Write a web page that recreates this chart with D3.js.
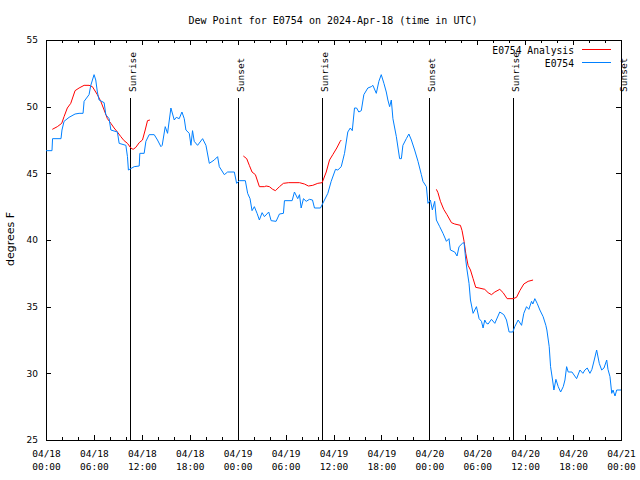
<!DOCTYPE html>
<html><head><meta charset="utf-8">
<script src="https://cdn.jsdelivr.net/npm/d3@7"></script>
<style>body{margin:0;background:#fff}svg{display:block}</style>
</head><body>
<svg id="c" width="640" height="480"></svg>
<script>
// ---- data (hours since 2024-04-18 00:00 UTC) ----
const obsHours = [0,0.75,0.82,1.88,2.0,2.26,2.89,3.64,4.14,4.64,4.77,5.39,5.61,6.02,6.23,6.43,6.65,7.28,7.49,7.90,8.12,8.94,9.16,10.0,10.2,10.32,11.04,11.67,11.75,12.29,12.51,12.92,13.55,13.96,14.39,14.55,14.93,15.22,15.64,16.06,16.31,16.68,17.02,17.31,17.52,17.94,18.15,18.35,18.56,18.98,19.61,20.03,20.45,21.07,21.49,21.70,22.33,22.74,23.58,23.87,24.21,24.96,25.25,25.55,25.80,26.09,26.43,26.72,27.06,27.35,27.89,28.19,28.81,29.23,29.73,29.86,30.82,31.11,31.52,31.74,31.95,32.24,32.58,32.99,33.37,33.62,34.37,34.87,35.29,35.71,36.25,36.54,36.97,37.38,37.79,38.10,38.35,38.63,38.89,39.17,39.48,39.80,40.30,40.73,40.93,41.36,41.68,41.98,42.31,42.61,42.81,43.03,43.24,43.44,43.87,44.28,44.50,44.69,45.12,45.44,45.75,46.16,46.58,47.0,47.20,47.63,47.83,48.13,48.38,48.67,48.88,49.30,49.71,50.14,50.46,50.64,51.18,51.47,51.72,52.14,52.35,52.56,52.72,52.97,53.15,53.48,53.90,54.23,54.53,54.73,54.94,55.16,55.36,55.78,56.20,56.82,57.33,57.66,57.99,58.45,58.70,59.12,59.55,59.83,60.17,60.46,60.80,60.96,61.21,61.50,61.84,62.25,62.59,62.72,63.01,63.18,63.43,63.60,63.85,64.14,64.44,64.77,64.98,65.19,65.39,65.86,66.44,66.86,67.23,67.48,67.77,68.11,68.36,68.65,68.95,69.28,69.58,69.87,70.21,70.37,70.62,70.84,71.0,71.25,71.46,72.0];
const obsValues = [46.7,46.7,47.6,47.6,48.25,48.9,49.2,49.45,49.5,49.5,50.4,50.9,51.6,52.4,52.0,51.1,50.5,50.3,49.4,49.1,48.25,48.1,47.25,47.1,46.25,45.25,45.5,45.55,46.5,46.5,47.4,47.9,47.9,47.5,47.0,47.1,48.5,48.0,49.9,49.0,49.2,49.1,49.6,49.1,48.25,48.0,47.1,48.2,47.4,47.1,47.6,47.1,45.75,46.0,46.25,45.5,44.9,45.1,45.1,44.25,44.45,44.45,43.5,43.1,42.2,42.5,42.0,41.5,42.05,41.75,42.1,41.45,41.4,41.95,42.0,42.95,42.95,43.6,43.1,43.4,42.4,43.1,42.9,43.05,43.0,42.4,42.4,43.0,43.5,44.4,45.3,45.25,45.5,46.5,48.1,48.4,48.2,49.9,49.9,49.6,49.7,50.9,51.4,51.5,51.6,51.0,51.9,52.4,51.75,51.1,50.5,50.0,50.5,49.1,47.75,46.1,46.1,47.1,47.6,47.95,47.5,46.75,45.9,44.9,44.4,44.0,42.75,43.0,42.25,42.9,41.5,41.0,40.5,39.9,40.1,39.25,39.1,38.8,39.5,39.75,39.8,38.5,37.75,36.75,35.5,34.5,35.0,34.1,33.9,33.4,34.0,33.75,33.7,34.05,33.75,34.6,34.4,34.0,33.1,33.1,33.5,34.0,33.6,34.5,35.0,34.8,35.4,35.2,35.6,35.25,34.75,34.25,33.6,33.25,32.0,30.5,29.5,28.75,29.55,29.0,28.6,29.0,29.5,30.5,30.1,30.1,29.6,30.25,30.0,30.25,30.4,30.0,30.3,31.0,31.75,30.75,30.25,30.4,31.0,30.3,29.75,28.5,28.75,28.3,28.75,28.75];

// analysis: null marks a gap between runs
const anaHours = [0.79,1.42,1.97,2.26,2.67,3.10,3.64,4.14,4.77,5.39,5.81,6.43,6.86,7.28,7.69,8.12,8.53,8.94,9.37,9.78,10.2,10.62,10.91,11.25,11.67,12.08,12.42,12.71,13.01,
  13.5,
  24.71,25.13,25.46,25.80,26.22,26.72,27.35,27.56,27.97,28.39,28.73,29.23,29.73,30.39,31.74,32.36,32.86,33.40,34.03,34.58,35.09,35.50,35.91,36.41,36.84,36.97,
  37.5,
  48.88,49.08,49.39,49.80,50.21,50.77,51.18,51.89,52.10,52.35,52.56,52.85,53.15,53.48,53.81,54.23,54.94,55.36,55.78,56.20,56.82,57.24,57.74,58.49,58.92,59.33,59.83,60.37,60.99];
const anaValues = [48.3,48.5,48.75,49.25,49.9,50.25,51.2,51.4,51.6,51.6,51.5,50.9,50.4,49.75,49.1,48.75,48.4,48.1,47.75,47.45,47.25,46.9,46.8,46.95,47.3,47.5,48.25,48.95,49.0,
  null,
  46.3,46.1,45.6,45.1,44.9,44.0,44.0,44.05,44.0,43.8,43.7,44.0,44.25,44.3,44.3,44.2,44.05,44.1,44.25,44.3,45.1,46.0,46.4,46.9,47.4,47.5,
  null,
  43.8,43.55,42.9,42.3,41.9,41.3,41.2,41.1,40.7,39.9,39.0,38.1,37.75,37.1,36.45,36.4,36.3,36.05,35.9,36.1,36.3,36.05,35.6,35.6,35.7,36.2,36.7,36.9,37.0];

const eventHours = [10.5, 24.0, 34.5, 48.0, 58.5, 72.0];
const eventLabels = ["Sunrise","Sunset","Sunrise","Sunset","Sunrise","Sunset"];
const yTicks = [25,30,35,40,45,50,55];
const seriesNames = ["E0754 Analysis","E0754"];
const seriesColors = ["#ff0000","#0080ff"];
const titleText = "Dew Point for E0754 on 2024-Apr-18 (time in UTC)";
const yLabel = "degrees F";

// ---- chart ----
const svg = d3.select("#c");
const L = 46, R = 621, T = 40, B = 440;
const t0 = Date.UTC(2024,3,18);
const toDate = h => new Date(t0 + h*3600e3);
const x = d3.scaleUtc().domain([toDate(0), toDate(72)]).range([L, R]);
const y = d3.scaleLinear().domain([25,55]).range([B, T]);
const mono = "'DejaVu Sans Mono', monospace";
const sans = "'DejaVu Sans', sans-serif";

svg.append("rect").attr("width",640).attr("height",480).attr("fill","#fff");

const majorX = d3.utcHour.every(6).range(toDate(0), toDate(72.01));
const minorX = d3.utcHour.every(2).range(toDate(0), toDate(72.01)).filter(d => d.getUTCHours()%6 !== 0);

function styleAxis(g){
  g.select(".domain").remove();
  g.selectAll("line").attr("stroke","#000").attr("shape-rendering","crispEdges");
}
// bottom major with labels
const gb = svg.append("g").attr("transform",`translate(0,${B})`)
  .call(d3.axisBottom(x).tickValues(majorX).tickSize(-5).tickPadding(13).tickFormat(d3.utcFormat("%m/%d")))
  .call(styleAxis);
gb.selectAll("text").attr("font-family",mono).attr("font-size","9.5px").attr("fill","#000")
  .each(function(d){
    const t = d3.select(this); t.text(null).attr("y",null).attr("dy",null);
    t.append("tspan").attr("x",0).attr("y",17).text(d3.utcFormat("%m/%d")(d));
    t.append("tspan").attr("x",0).attr("y",30).text(d3.utcFormat("%H:%M")(d));
  });
svg.append("g").attr("transform",`translate(0,${B})`)
  .call(d3.axisBottom(x).tickValues(minorX).tickSize(-3).tickFormat(""))
  .call(styleAxis);
svg.append("g").attr("transform",`translate(0,${T})`)
  .call(d3.axisTop(x).tickValues(majorX).tickSize(-5).tickFormat(""))
  .call(styleAxis);
svg.append("g").attr("transform",`translate(0,${T})`)
  .call(d3.axisTop(x).tickValues(minorX).tickSize(-3).tickFormat(""))
  .call(styleAxis);
// left / right
const gl = svg.append("g").attr("transform",`translate(${L},0)`)
  .call(d3.axisLeft(y).tickValues(yTicks).tickSize(-5).tickPadding(8).tickFormat(d3.format("d")))
  .call(styleAxis);
gl.selectAll("text").attr("font-family",sans).attr("font-size","9px").attr("fill","#000");
svg.append("g").attr("transform",`translate(${R},0)`)
  .call(d3.axisRight(y).tickValues(yTicks).tickSize(-5).tickFormat(""))
  .call(styleAxis);

// frame
svg.append("rect").attr("x",L+0.5).attr("y",T+0.5).attr("width",R-L).attr("height",B-T)
  .attr("fill","none").attr("stroke","#000").attr("shape-rendering","crispEdges");

// event lines
const ev = svg.append("g");
eventHours.forEach((h,i)=>{
  const xx = Math.round(x(toDate(h)))+0.5;
  ev.append("line").attr("x1",xx).attr("x2",xx).attr("y1",98).attr("y2",B)
    .attr("stroke","#000").attr("shape-rendering","crispEdges");
  ev.append("text").attr("transform",`translate(${xx+5},92) rotate(-90)`)
    .attr("font-family",mono).attr("font-size","9.5px").attr("fill","#000").text(eventLabels[i]);
});

// series
const line = d3.line().defined(d=>d.v!=null).x(d=>x(toDate(d.h))).y(d=>y(d.v));
const anaData = anaHours.map((h,i)=>({h, v: anaValues[i]}));
const obsData = obsHours.map((h,i)=>({h, v: obsValues[i]}));
svg.append("path").datum(anaData).attr("d",line).attr("fill","none").attr("stroke",seriesColors[0]).attr("stroke-width",1);
svg.append("path").datum(obsData).attr("d",line).attr("fill","none").attr("stroke",seriesColors[1]).attr("stroke-width",1);

// legend
seriesNames.forEach((n,i)=>{
  const yy = 49.5 + i*13;
  svg.append("text").attr("x",574).attr("y",yy+4).attr("text-anchor","end")
    .attr("font-family",mono).attr("font-size","9.7px").attr("fill","#000").text(n);
  svg.append("line").attr("x1",582).attr("x2",611).attr("y1",yy).attr("y2",yy)
    .attr("stroke",seriesColors[i]).attr("shape-rendering","crispEdges");
});

// title and y label
svg.append("text").attr("x",333).attr("y",24).attr("text-anchor","middle")
  .attr("font-family",mono).attr("font-size","10px").attr("fill","#000").text(titleText);
svg.append("text").attr("transform","translate(14,239) rotate(-90)").attr("text-anchor","middle")
  .attr("font-family",sans).attr("font-size","11px").attr("fill","#000").text(yLabel);
</script>
</body></html>
